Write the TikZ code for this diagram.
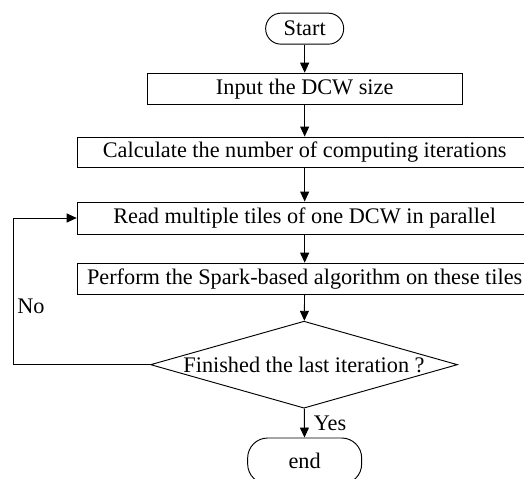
\documentclass[tikz,border=0pt]{standalone}
\usepackage{fontspec}
\setmainfont{Liberation Serif}
\usetikzlibrary{arrows.meta,shapes.geometric}

\begin{document}
\begin{tikzpicture}[
    font=\fontsize{19}{22}\selectfont,
    line width=0.8pt,
    >={Triangle[length=0.3cm, width=0.27cm]},
    box/.style={rectangle, draw, minimum height=0.93cm},
    terminal/.style={rectangle, draw, minimum height=0.93cm, rounded corners=0.46cm}
  ]
  \useasboundingbox (0, 0) rectangle (15.72, -14.37);
  % Nodes
  \node (start) [terminal, minimum width=2.34cm] at (9.14, -0.86) {Start};
  \node (input) [box, minimum width=9.45cm] at (9.14, -2.66) {Input the DCW size};
  \node (calc) [box, minimum width=13.65cm, minimum height=0.9cm] at (9.14, -4.56) {Calculate the number of computing iterations};
  \node (read) [box, minimum width=13.65cm, minimum height=0.96cm] at (9.14, -6.54) {Read multiple tiles of one DCW in parallel};
  \node (perform) [box, minimum width=13.65cm] at (9.14, -8.36) {Perform the Spark-based algorithm on these tiles};
  \node (check) [diamond, draw, aspect=3.53, inner sep=0pt, inner xsep=-0.08cm, minimum width=9.21cm, minimum height=2.61cm] at (9.12, -10.94) {Finished the last iteration ?};
  \node (finish) [terminal, minimum width=3.42cm, minimum height=1.38cm, rounded corners=0.6cm] at (9.14, -13.83) {end};
  % Arrows
  \draw[->] (start) -- (input);
  \draw[->] (input) -- (calc);
  \draw[->] (calc) -- (read);
  \draw[->] (read) -- (perform);
  \draw[->] (perform) -- (check);
  \draw[->] (check) -- node[right, xshift=0.15cm] {Yes} (finish);
  \draw[->] (check.west) -- ++(-4.11, 0) |- node[pos=0.2, right] {No} (read.west);
\end{tikzpicture}
\end{document}
